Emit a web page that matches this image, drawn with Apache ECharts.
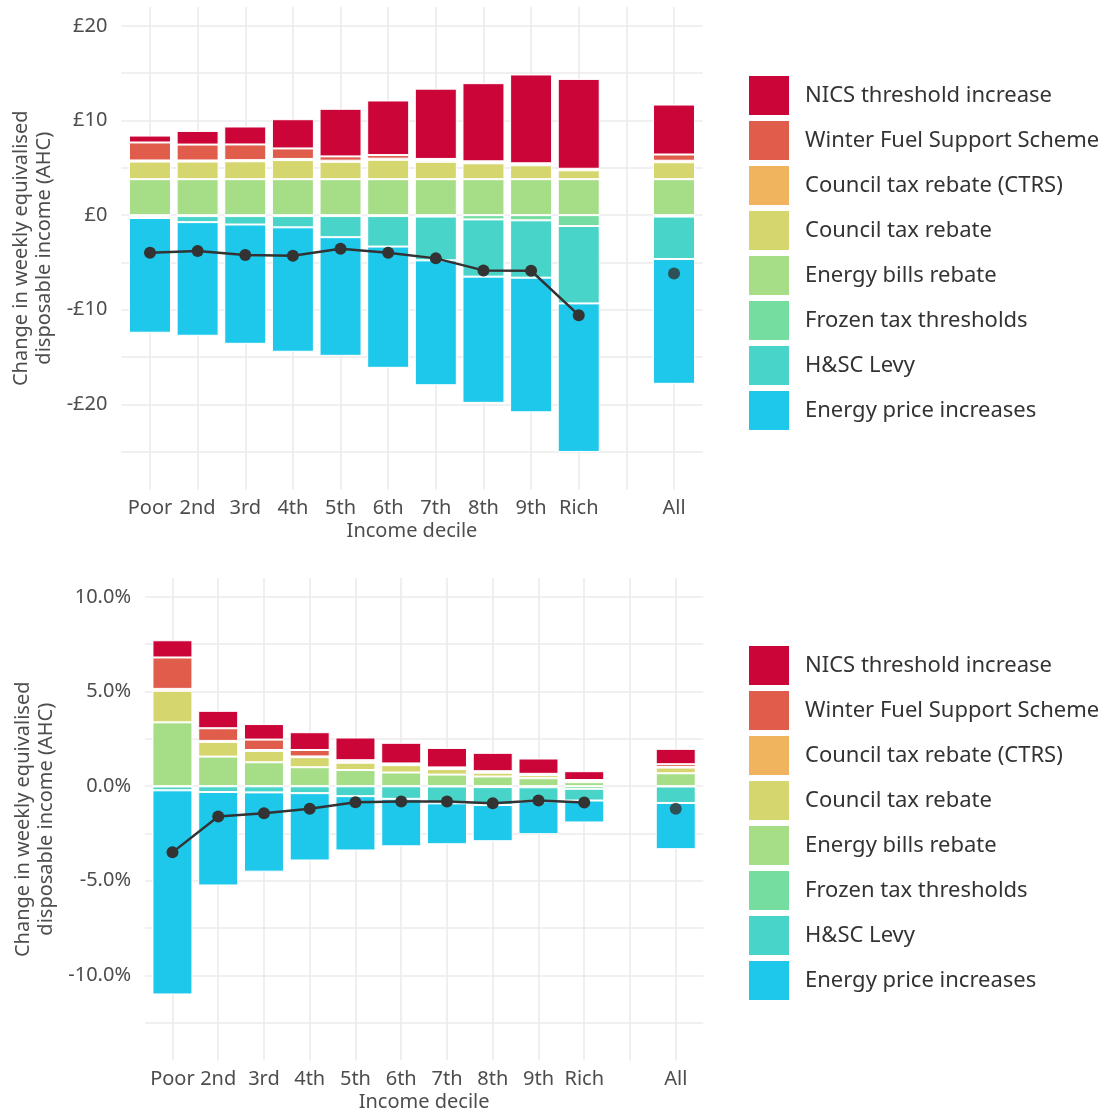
<!DOCTYPE html>
<html><head><meta charset="utf-8">
<script src="https://cdn.jsdelivr.net/npm/echarts@6/dist/echarts.min.js"></script>
<style>html,body{margin:0;padding:0;background:#fff}#c{width:1107px;height:1109px}</style>
</head><body><div id="c"></div>
<script>
// ---------- DATA ----------
const categories = ['Poor','2nd','3rd','4th','5th','6th','7th','8th','9th','Rich','','All'];
const legendOrder = ['NICS threshold increase','Winter Fuel Support Scheme','Council tax rebate (CTRS)','Council tax rebate','Energy bills rebate','Frozen tax thresholds','H&SC Levy','Energy price increases'];
const stackOrder = ['Energy bills rebate','Council tax rebate','Council tax rebate (CTRS)','Winter Fuel Support Scheme','NICS threshold increase','Frozen tax thresholds','H&SC Levy','Energy price increases'];
const colors = {
  'NICS threshold increase':'#CC0538',
  'Winter Fuel Support Scheme':'#E05D4B',
  'Council tax rebate (CTRS)':'#F0B35E',
  'Council tax rebate':'#D6D66F',
  'Energy bills rebate':'#A6DD87',
  'Frozen tax thresholds':'#76DDA0',
  'H&SC Levy':'#48D4C8',
  'Energy price increases':'#1DC8EB'
};
// Panel 1: £ per week
const gbpNICS   = [0.73,1.44,1.90,3.09,5.03,5.77,7.43,8.26,9.39,9.50,null,5.28];
const gbpWinter = [1.90,1.68,1.66,1.11,0.45,0.38,0.15,0.10,0.10,0.06,null,0.66];
const gbpCTRS   = [0.12,0.12,0.12,0.12,0.12,0.12,0.15,0.11,0.11,0.10,null,0.16];
const gbpCTR    = [1.86,1.86,1.89,2.02,1.84,2.05,1.84,1.68,1.47,0.94,null,1.79];
const gbpEBR    = [3.80,3.80,3.80,3.80,3.80,3.80,3.80,3.80,3.80,3.80,null,3.80];
const gbpFrozen = [-0.10,-0.10,-0.10,-0.10,-0.10,-0.10,-0.15,-0.45,-0.55,-1.15,null,-0.15];
const gbpLevy   = [-0.20,-0.64,-0.89,-1.19,-2.23,-3.22,-4.63,-6.05,-6.06,-8.18,null,-4.49];
const gbpEnergy = [-12.13,-12.01,-12.61,-13.15,-12.54,-12.82,-13.20,-13.34,-14.23,-15.70,null,-13.19];
const gbpNet    = [-3.97,-3.80,-4.22,-4.29,-3.55,-3.97,-4.57,-5.84,-5.88,-10.57,null,-6.16];
// Panel 2: % of income
const pctNICS   = [0.91,0.92,0.82,0.94,1.20,1.09,1.03,0.97,0.81,0.47,null,0.81];
const pctWinter = [1.66,0.67,0.55,0.34,0.09,0.06,0.06,0.06,0.05,0.01,null,0.15];
const pctCTRS   = [0.10,0.05,0.05,0.04,0.04,0.03,0.03,0.02,0.02,0.01,null,0.03];
const pctCTR    = [1.67,0.78,0.60,0.53,0.39,0.39,0.29,0.20,0.16,0.09,null,0.30];
const pctEBR    = [3.37,1.56,1.26,1.00,0.85,0.72,0.61,0.51,0.42,0.21,null,0.68];
const pctFrozen = [-0.02,-0.01,-0.01,-0.01,-0.01,-0.01,-0.02,-0.05,-0.06,-0.14,null,-0.02];
const pctLevy   = [-0.20,-0.30,-0.32,-0.36,-0.52,-0.66,-0.89,-0.95,-0.74,-0.62,null,-0.87];
const pctEnergy = [-10.79,-4.94,-4.19,-3.56,-2.87,-2.51,-2.16,-1.91,-1.74,-1.16,null,-2.44];
const pctNet    = [-3.50,-1.60,-1.43,-1.20,-0.85,-0.81,-0.81,-0.90,-0.76,-0.86,null,-1.20];
const yTicksGbp = [-20,-10,0,10,20];
const yTicksPct = [-10,-5,0,5,10];

const panels = [
  {values:{'NICS threshold increase':gbpNICS,'Winter Fuel Support Scheme':gbpWinter,'Council tax rebate (CTRS)':gbpCTRS,'Council tax rebate':gbpCTR,'Energy bills rebate':gbpEBR,'Frozen tax thresholds':gbpFrozen,'H&SC Levy':gbpLevy,'Energy price increases':gbpEnergy}, net:gbpNet},
  {values:{'NICS threshold increase':pctNICS,'Winter Fuel Support Scheme':pctWinter,'Council tax rebate (CTRS)':pctCTRS,'Council tax rebate':pctCTR,'Energy bills rebate':pctEBR,'Frozen tax thresholds':pctFrozen,'H&SC Levy':pctLevy,'Energy price increases':pctEnergy}, net:pctNet}
];

// ---------- CHART ----------
const FONT = 'Noto Sans';
const GRID_GRAY = '#EBEBEB';
const T = 'rgba(0,0,0,0)';
// fine category axis: slots -3..58, category i sits at slot 5*i (gives ggplot-like 0.6 padding)
const SLOT_MIN = -3, SLOT_MAX = 58;
const slots = [];
for (let v = SLOT_MIN; v <= SLOT_MAX; v++) slots.push('s' + v);
const slotOf = i => 5 * i - SLOT_MIN;
function spread(vals){
  const arr = slots.map(() => null);
  vals.forEach((v, i) => { if (v != null) arr[slotOf(i)] = v; });
  return arr;
}
function slotLabel(s){
  const v = +s.slice(1);
  return (v >= 0 && v % 5 === 0) ? (categories[v / 5] || '') : '';
}
const isCatSlot = idx => { const v = idx + SLOT_MIN; return v >= 0 && v % 5 === 0; };

const series = [];
panels.forEach((p, pi) => {
  const bw = pi === 0 ? 42 : 40;
  stackOrder.forEach(name => {
    series.push({
      type:'bar', name, xAxisIndex:pi, yAxisIndex:pi, stack:'s'+pi, barWidth:bw,
      itemStyle:{color:colors[name], borderColor:'#fff', borderWidth:1},
      emphasis:{disabled:true}, silent:true, z:2,
      data: spread(p.values[name])
    });
  });
  const lineVals = p.net.map((v,i) => categories[i] === 'All' ? null : v);
  const allVals = p.net.map((v,i) => categories[i] === 'All' ? v : null);
  series.push({type:'line', name:'net'+pi, xAxisIndex:pi, yAxisIndex:pi, data:spread(lineVals), connectNulls:true,
    symbol:'circle', symbolSize:12, showSymbol:true,
    lineStyle:{color:'#333333', width:2.5}, itemStyle:{color:'#333333'}, z:5, silent:true, emphasis:{disabled:true}});
  series.push({type:'scatter', name:'netAll'+pi, xAxisIndex:pi, yAxisIndex:pi, data:spread(allVals), symbol:'circle', symbolSize:12,
    itemStyle:{color:'#333333'}, z:5, silent:true, emphasis:{disabled:true}});
});

const labelStyle = {fontFamily:FONT, fontSize:20, color:'#4D4D4D'};
function xAxis(gi, margin, nameGap){
  return {type:'category', gridIndex:gi, data:slots, boundaryGap:false,
    axisLine:{show:false}, axisTick:{show:false},
    axisLabel:Object.assign({margin:margin, interval:(idx) => isCatSlot(idx), formatter:slotLabel}, labelStyle),
    splitLine:{show:true, interval:(idx) => isCatSlot(idx), lineStyle:{color:GRID_GRAY, width:1.6}},
    name:'Income decile', nameLocation:'middle', nameGap:nameGap,
    nameTextStyle:labelStyle};
}
const yName = 'Change in weekly equivalised\ndisposable income (AHC)';
const option = {
  backgroundColor:'#ffffff',
  animation:false,
  textStyle:{fontFamily:FONT},
  grid:[
    {left:121.4, width:581.2, top:7, height:482.5, containLabel:false, outerBoundsMode:'none'},
    {left:145, width:558.2, top:578, height:482.5, containLabel:false, outerBoundsMode:'none'}
  ],
  xAxis:[xAxis(0, 9, 32), xAxis(1, 9, 32)],
  yAxis:[
    {type:'value', gridIndex:0, min:-29, max:22, interval:1,
     axisLine:{show:false}, axisTick:{show:false},
     axisLabel:Object.assign({margin:14, formatter:v => yTicksGbp.includes(v) ? (v<0 ? '-£'+(-v) : '£'+v) : ''}, labelStyle),
     splitLine:{show:true, lineStyle:{color:[T,T,T,T,GRID_GRAY], width:1.6}},
     name:yName, nameLocation:'middle', nameRotate:90, nameGap:57,
     nameTextStyle:Object.assign({lineHeight:23}, labelStyle)},
    {type:'value', gridIndex:1, min:-14.5, max:11, interval:0.5,
     axisLine:{show:false}, axisTick:{show:false},
     axisLabel:Object.assign({margin:14, formatter:v => yTicksPct.includes(v) ? v.toFixed(1)+'%' : ''}, labelStyle),
     splitLine:{show:true, lineStyle:{color:[T,T,T,T,GRID_GRAY], width:1.6}},
     name:yName, nameLocation:'middle', nameRotate:90, nameGap:81,
     nameTextStyle:Object.assign({lineHeight:23}, labelStyle)}
  ],
  legend:[0,1].map(k => ({
    data:legendOrder, orient:'vertical', left:747, top: k===0 ? 74 : 644, padding:0,
    itemWidth:42, itemHeight:41, itemGap:2, icon:'rect', selectedMode:false,
    textStyle:{fontFamily:FONT, fontSize:22, color:'#333333', padding:[0,0,0,10]}
  })),
  series
};
const chart = echarts.init(document.getElementById('c'));
chart.setOption(option);
</script>
</body></html>
